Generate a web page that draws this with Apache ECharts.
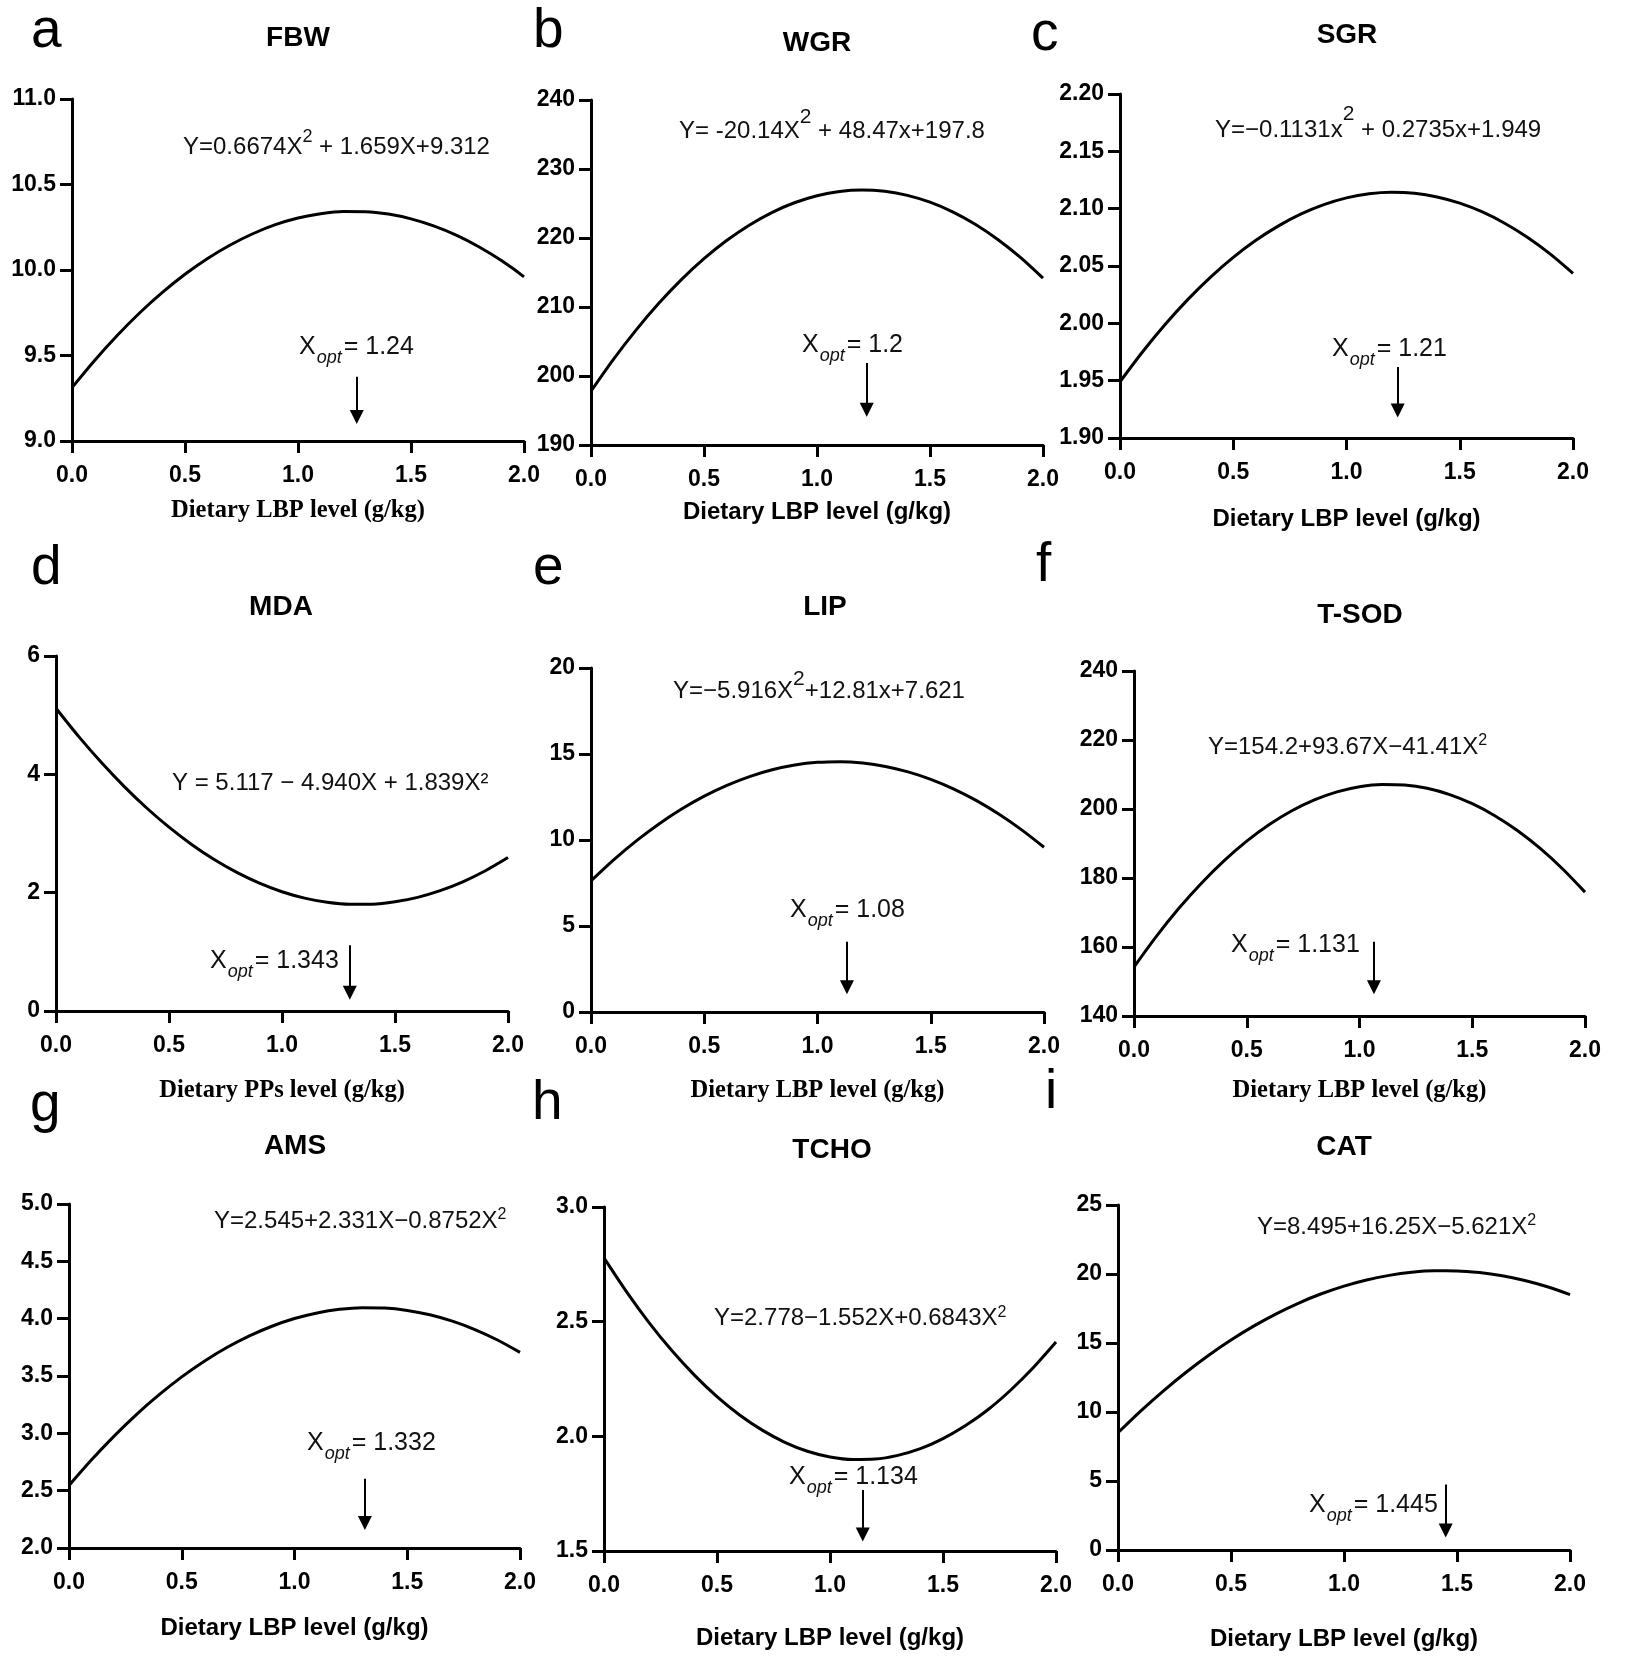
<!DOCTYPE html>
<html><head><meta charset="utf-8">
<script src="https://cdn.jsdelivr.net/npm/echarts@6/dist/echarts.min.js"></script>
<style>html,body{margin:0;padding:0;background:#fff}#c{width:1643px;height:1667px}</style>
</head><body><div id="c"></div>
<script>
// ---------------- DATA ----------------
const xLevels = [0, 0.1, 0.2, 0.3, 0.4, 0.5, 0.6, 0.7, 0.8, 0.9, 1.0, 1.1, 1.2, 1.3, 1.4, 1.5, 1.6, 1.7, 1.8, 1.9, 2.0];
const xTickLabels = ['0.0', '0.5', '1.0', '1.5', '2.0'];

const panelLetters = ['a', 'b', 'c', 'd', 'e', 'f', 'g', 'h', 'i'];
const panelTitles = ['FBW', 'WGR', 'SGR', 'MDA', 'LIP', 'T-SOD', 'AMS', 'TCHO', 'CAT'];
const xAxisNames = ['Dietary LBP level (g/kg)', 'Dietary LBP level (g/kg)', 'Dietary LBP level (g/kg)',
  'Dietary PPs level (g/kg)', 'Dietary LBP level (g/kg)', 'Dietary LBP level (g/kg)',
  'Dietary LBP level (g/kg)', 'Dietary LBP level (g/kg)', 'Dietary LBP level (g/kg)'];

const yTicksFBW = ['9.0', '9.5', '10.0', '10.5', '11.0'];
const yTicksWGR = ['190', '200', '210', '220', '230', '240'];
const yTicksSGR = ['1.90', '1.95', '2.00', '2.05', '2.10', '2.15', '2.20'];
const yTicksMDA = ['0', '2', '4', '6'];
const yTicksLIP = ['0', '5', '10', '15', '20'];
const yTicksTSOD = ['140', '160', '180', '200', '220', '240'];
const yTicksAMS = ['2.0', '2.5', '3.0', '3.5', '4.0', '4.5', '5.0'];
const yTicksTCHO = ['1.5', '2.0', '2.5', '3.0'];
const yTicksCAT = ['0', '5', '10', '15', '20', '25'];

// curve values read at xLevels
const fbw = [9.312, 9.471, 9.617, 9.750, 9.869, 9.975, 10.067, 10.146, 10.212, 10.265, 10.304,
  10.329, 10.342, 10.341, 10.327, 10.299, 10.258, 10.204, 10.136, 10.055, 9.960];
const wgr = [197.8, 202.45, 206.69, 210.53, 213.97, 217.00, 219.63, 221.86, 223.69, 225.11, 226.13,
  226.75, 226.96, 226.77, 226.18, 225.19, 223.79, 222.00, 219.79, 217.19, 214.18];
const sgr = [1.949, 1.9752, 1.9992, 2.0209, 2.0403, 2.0575, 2.0724, 2.0850, 2.0954, 2.1035, 2.1094,
  2.1130, 2.1143, 2.1134, 2.1102, 2.1048, 2.0971, 2.0871, 2.0749, 2.0604, 2.0436];
const mda = [5.117, 4.641, 4.203, 3.801, 3.435, 3.107, 2.815, 2.560, 2.342, 2.161, 2.016,
  1.908, 1.837, 1.803, 1.805, 1.845, 1.921, 2.034, 2.183, 2.370, 2.593];
const lip = [7.621, 8.843, 9.946, 10.932, 11.798, 12.547, 13.177, 13.689, 14.083, 14.358, 14.515,
  14.554, 14.474, 14.276, 13.960, 13.525, 12.972, 12.301, 11.511, 10.603, 9.577];
const tsod = [154.2, 163.15, 171.28, 178.57, 185.04, 190.68, 195.49, 199.48, 202.63, 204.96, 206.46,
  207.13, 206.97, 205.99, 204.17, 201.53, 198.06, 193.76, 188.64, 182.68, 175.90];
const ams = [2.545, 2.769, 2.976, 3.166, 3.337, 3.492, 3.629, 3.748, 3.850, 3.934, 4.001,
  4.050, 4.082, 4.096, 4.093, 4.072, 4.034, 3.978, 3.905, 3.814, 3.706];
const tcho = [2.778, 2.630, 2.495, 2.374, 2.267, 2.173, 2.093, 2.027, 1.974, 1.935, 1.910,
  1.899, 1.901, 1.917, 1.946, 1.990, 2.047, 2.117, 2.202, 2.300, 2.411];
const cat = [8.495, 10.064, 11.520, 12.864, 14.096, 15.215, 16.221, 17.116, 17.898, 18.567, 19.124,
  19.569, 19.901, 20.121, 20.228, 20.223, 20.105, 19.875, 19.533, 19.078, 18.511];

const eqMain = ['Y=0.6674X', 'Y= -20.14X', 'Y=\u22120.1131x', 'Y = 5.117 \u2212 4.940X + 1.839X\u00b2',
  'Y=\u22125.916X', 'Y=154.2+93.67X\u221241.41X', 'Y=2.545+2.331X\u22120.8752X',
  'Y=2.778\u22121.552X+0.6843X', 'Y=8.495+16.25X\u22125.621X'];
const eqSup = ['2', '2', '2', '', '2', '2', '2', '2', '2'];
const eqTail = [' + 1.659X+9.312', ' + 48.47x+197.8', ' + 0.2735x+1.949', '', '+12.81x+7.621', '', '', '', ''];
const xoptValues = ['1.24', '1.2', '1.21', '1.343', '1.08', '1.131', '1.332', '1.134', '1.445'];

// arrow annotations (data units): x, top of shaft, end (arrow head)
const arrowX = [1.26, 1.22, 1.226, 1.30, 1.13, 1.064, 1.312, 1.145, 1.45];
const arrowTop = [9.376, 201.9, 1.962, 1.11, 4.09, 161.5, 2.604, 1.766, 4.75];
const arrowEnd = [9.14, 195.1, 1.924, 0.31, 1.44, 148.3, 2.218, 1.572, 1.41];

const yTickSets = [yTicksFBW, yTicksWGR, yTicksSGR, yTicksMDA, yTicksLIP, yTicksTSOD, yTicksAMS, yTicksTCHO, yTicksCAT];
const seriesValues = [fbw, wgr, sgr, mda, lip, tsod, ams, tcho, cat];

// ---------------- LAYOUT / STYLE ----------------
const SANS = "'Liberation Sans', Arial, Helvetica, sans-serif";
const SERIF = "'Liberation Serif', 'Times New Roman', serif";

const layout = [
  {l: 72, r: 524, t: 99, b: 441, letter: [31, 32], title: [298, 38], eq: [183, 147.5], sup: [18, 21.5], xopt: [299, 347.5], gap: 70, serif: true},
  {l: 591, r: 1043, t: 100, b: 445, letter: [533, 32], title: [817, 43], eq: [679, 131.5], sup: [21, 28], xopt: [802, 345.5], gap: 67, serif: false},
  {l: 1120, r: 1573, t: 94, b: 438, letter: [1031, 35], title: [1347, 35], eq: [1215, 130.7], sup: [21, 32], xopt: [1332, 349], gap: 81, serif: false},
  {l: 56, r: 508, t: 656, b: 1011, letter: [31, 569], title: [281, 607], eq: [172, 783.7], sup: [16, 12], xopt: [210, 961], gap: 80, serif: true},
  {l: 591, r: 1044, t: 668, b: 1012, letter: [533, 569], title: [825, 607], eq: [673, 691], sup: [21, 24], xopt: [790, 910.5], gap: 79, serif: true},
  {l: 1134, r: 1585, t: 671, b: 1016, letter: [1036, 566], title: [1360, 615], eq: [1208, 747], sup: [16, 12.5], xopt: [1231, 945], gap: 75, serif: true},
  {l: 69, r: 520, t: 1204, b: 1548, letter: [30, 1106], title: [295, 1146.5], eq: [214, 1221], sup: [16, 12.5], xopt: [307, 1443], gap: 80, serif: false},
  {l: 604, r: 1056, t: 1207, b: 1551, letter: [532, 1104], title: [832, 1150], eq: [714, 1318.7], sup: [16, 12.5], xopt: [789, 1477], gap: 87, serif: false},
  {l: 1118, r: 1570, t: 1205, b: 1550, letter: [1045, 1093], title: [1344, 1147], eq: [1257, 1227], sup: [16, 12.5], xopt: [1309, 1505], gap: 89, serif: false}
];

const grids = [], xAxes = [], yAxes = [], series = [], graphics = [];
const axisLineStyle = {color: '#000', width: 3};

layout.forEach((L, i) => {
  grids.push({left: L.l, top: L.t, width: L.r - L.l, height: L.b - L.t, containLabel: false, outerBoundsMode: 'none'});

  xAxes.push({
    type: 'value', gridIndex: i, min: 0, max: 2, interval: 0.5,
    axisLine: {show: true, onZero: false, lineStyle: axisLineStyle},
    axisTick: {show: true, length: 12, inside: false, lineStyle: axisLineStyle},
    splitLine: {show: false},
    axisLabel: {show: true, margin: 23, fontFamily: SANS, fontWeight: 'bold', fontSize: 23, color: '#000',
      formatter: v => xTickLabels[Math.round(v / 0.5)] || ''},
    name: xAxisNames[i], nameLocation: 'middle', nameGap: L.gap,
    nameTextStyle: {fontFamily: L.serif ? SERIF : SANS, fontWeight: 'bold', fontSize: L.serif ? 24.5 : 24, color: '#000', verticalAlign: 'middle'}
  });

  const ticks = yTickSets[i];
  const ymin = parseFloat(ticks[0]);
  const ymax = parseFloat(ticks[ticks.length - 1]);
  const yint = Math.round((ymax - ymin) / (ticks.length - 1) * 1e6) / 1e6;
  yAxes.push({
    type: 'value', gridIndex: i, min: ymin, max: ymax, interval: yint,
    axisLine: {show: true, onZero: false, lineStyle: axisLineStyle},
    axisTick: {show: true, length: 12, inside: false, lineStyle: axisLineStyle},
    splitLine: {show: false},
    axisLabel: {show: true, margin: 16, fontFamily: SANS, fontWeight: 'bold', fontSize: 23, color: '#000',
      formatter: v => ticks[Math.round((v - ymin) / yint)] || ''}
  });

  series.push({
    type: 'line', xAxisIndex: i, yAxisIndex: i, color: '#000',
    data: xLevels.map((x, k) => [x, seriesValues[i][k]]),
    smooth: 0.3, showSymbol: false, symbol: 'none', silent: true, animation: false,
    lineStyle: {color: '#000', width: 3},
    markLine: {
      silent: true, animation: false, symbol: ['none', 'triangle'], symbolSize: 14,
      label: {show: false}, itemStyle: {color: '#000'},
      lineStyle: {color: '#000', width: 2, type: 'solid'},
      emphasis: {disabled: true},
      data: [[{coord: [arrowX[i], arrowTop[i]]}, {coord: [arrowX[i], arrowEnd[i]]}]]
    }
  });

  graphics.push({type: 'text', x: L.letter[0], y: L.letter[1], silent: true,
    style: {text: panelLetters[i], fontSize: 55, fontFamily: SANS, fill: '#000', align: 'left', verticalAlign: 'middle'}});
  graphics.push({type: 'text', x: L.title[0], y: L.title[1], silent: true,
    style: {text: panelTitles[i], fontSize: 28, fontWeight: 'bold', fontFamily: SANS, fill: '#000', align: 'center', verticalAlign: 'middle'}});
  let eqText = '{m|' + eqMain[i] + '}';
  if (eqSup[i]) eqText += '{s|' + eqSup[i] + '}';
  if (eqTail[i]) eqText += '{m|' + eqTail[i] + '}';
  graphics.push({type: 'text', x: L.eq[0], y: L.eq[1], silent: true,
    style: {text: eqText, align: 'left', verticalAlign: 'middle',
      rich: {
        m: {fontSize: 24, fontFamily: SANS, fill: '#111'},
        s: {fontSize: L.sup[0], fontFamily: SANS, fill: '#111', padding: [0, 0, L.sup[1], 0]}
      }}});
  graphics.push({type: 'text', x: L.xopt[0], y: L.xopt[1], silent: true,
    style: {text: '{m|X}{s|opt}{m|= ' + xoptValues[i] + '}', align: 'left', verticalAlign: 'middle',
      rich: {
        m: {fontSize: 25, fontFamily: SANS, fill: '#111'},
        s: {fontSize: 18, fontStyle: 'italic', fontFamily: SANS, fill: '#111', padding: [21, 2, 0, 1]}
      }}});
});

const chart = echarts.init(document.getElementById('c'), null, {renderer: 'canvas'});
chart.setOption({
  backgroundColor: '#fff',
  animation: false,
  grid: grids, xAxis: xAxes, yAxis: yAxes, series: series,
  graphic: {elements: graphics}
});
</script>
</body></html>
